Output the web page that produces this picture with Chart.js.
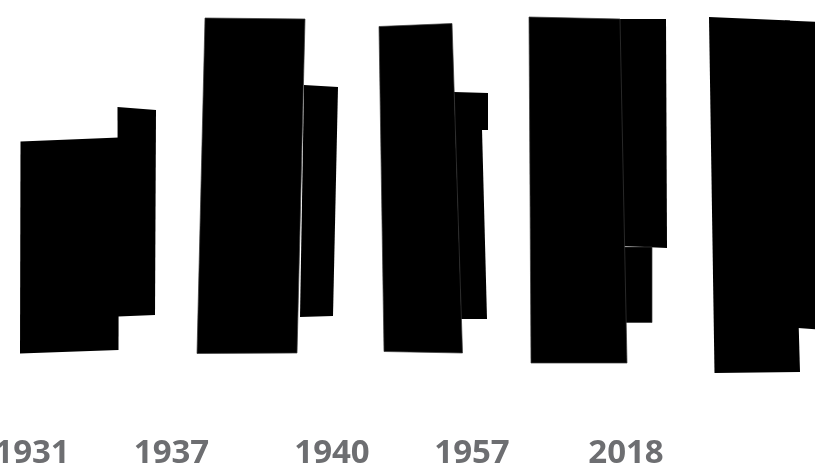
<!DOCTYPE html>
<html>
<head>
<meta charset="utf-8">
<script src="https://cdn.jsdelivr.net/npm/chart.js@4/dist/chart.umd.min.js"></script>
<style>
  html, body { margin: 0; padding: 0; background: #fff; overflow: hidden; }
  canvas { display: block; filter: blur(0.4px); }
</style>
</head>
<body>
<canvas id="chart" width="815" height="469"></canvas>
<script>
const categories = ["1931", "1937", "1940", "1957", "2018"];
const categoryX = [32, 171.5, 332, 472, 626];

// corners run top-left, top-right, bottom-right, bottom-left
const mainX = [[20.5, 119, 118.5, 20], [205, 305, 297, 197], [379, 452, 462.5, 384], [529, 620, 627, 531], [709, 790, 800, 714.5]];
const mainY = [[283.5, 287.5, 75, 71.5], [407, 406, 72, 71.5], [398.5, 401.5, 72, 73.5], [408, 406, 62, 62], [408, 404.4, 53, 52]];
const sideX = [[117.5, 156, 155, 118], [304, 338, 333, 300], [454, 488, 488, 455], [619, 666, 667, 622], [785, 840, 840, 798]];
const sideY = [[318, 315, 110, 108.5], [340, 338, 109, 108], [333, 332, 295, 295], [406, 406, 177, 179], [404.6, 402.2, 94, 97]];
const lowerX = [[455, 482, 487, 461], [623, 652, 652, 625]];
const lowerY = [[296, 296, 106, 106], [178, 178, 102.5, 102.5]];

const toPoints = (xs, ys) => xs.map((x, i) => ({ x, y: ys[i] }));

const makeQuads = (allX, allY, hasSeam) =>
  allX.map((xs, i) => ({
    data: toPoints(xs, allY[i]),
    seamWidth: hasSeam(i) ? 0.7 : 0,
    pointRadius: 0,
    showLine: false,
  }));

// scatter has no closed shape of its own, so fill between its scaled points
const quadFill = {
  id: "quadFill",
  afterDatasetDraw(chart, args) {
    const ds = chart.data.datasets[args.index];
    const pts = args.meta.data;
    const ctx = chart.ctx;
    ctx.save();
    ctx.beginPath();
    pts.forEach((p, i) => (i ? ctx.lineTo(p.x, p.y) : ctx.moveTo(p.x, p.y)));
    ctx.closePath();
    ctx.fillStyle = "#000";
    ctx.fill();
    if (ds.seamWidth) {
      ctx.strokeStyle = "#3a3a3a";
      ctx.lineWidth = ds.seamWidth;
      ctx.stroke();
    }
    ctx.restore();
  },
};

new Chart(document.getElementById("chart"), {
  type: "scatter",
  data: {
    datasets: [
      // 1931 and the cut off last group show no seam between their bars
      ...makeQuads(mainX, mainY, (i) => i > 0 && i < 4),
      ...makeQuads(lowerX, lowerY, (i) => i === 1),
      ...makeQuads(sideX, sideY, () => false),
    ],
  },
  options: {
    responsive: false,
    animation: false,
    layout: { padding: 0 },
    plugins: { legend: { display: false }, tooltip: { enabled: false } },
    scales: {
      x: {
        type: "linear",
        min: 0,
        max: 815,
        grid: { display: false },
        border: { display: false },
        afterBuildTicks(scale) {
          scale.ticks = categoryX.map((value) => ({ value }));
        },
        afterFit(scale) {
          scale.height = 44;
          scale.paddingLeft = 0;
          scale.paddingRight = 0;
        },
        ticks: {
          autoSkip: false,
          maxRotation: 0,
          padding: 1,
          color: "#6d6e71",
          font: { family: "'Open Sans'", size: 33, weight: "bold" },
          callback: (value) => categories[categoryX.indexOf(value)],
        },
      },
      y: { display: false, min: 0, max: 425 },
    },
  },
  plugins: [quadFill],
});
</script>
</body>
</html>
